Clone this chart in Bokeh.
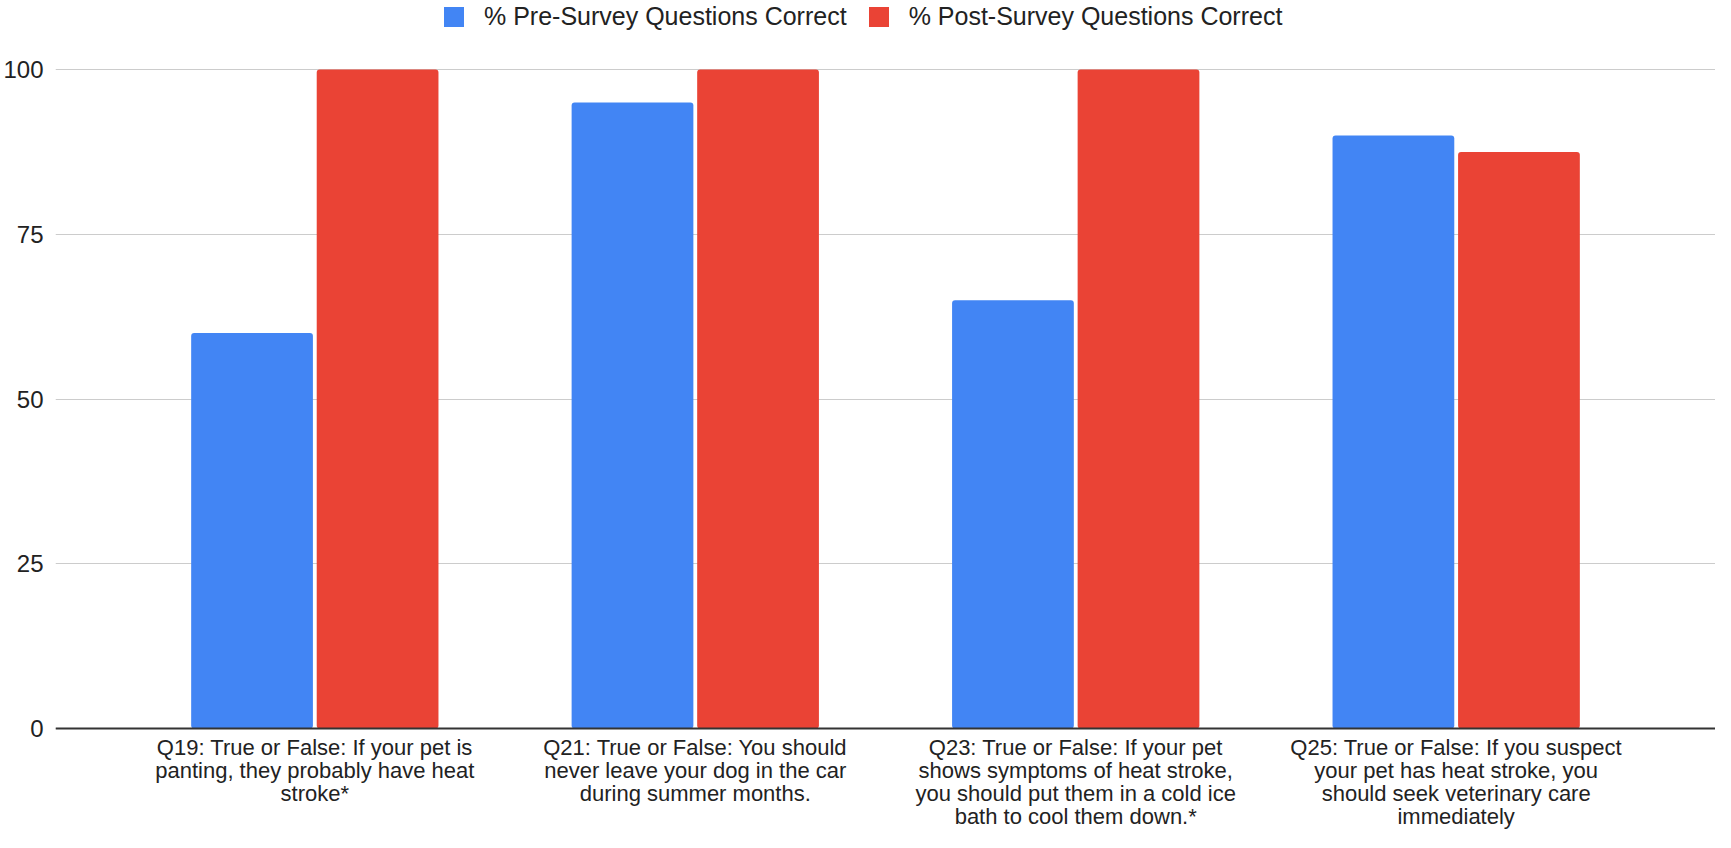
from bokeh.plotting import figure
from bokeh.models import FactorRange, Range1d, FixedTicker, Legend, LegendItem, ColumnDataSource, Span
from bokeh.core.properties import value
from bokeh.transform import dodge
from bokeh.embed import file_html
from bokeh.resources import INLINE

questions = [
    "Q19: True or False: If your pet is\npanting, they probably have heat\nstroke*",
    "Q21: True or False: You should\nnever leave your dog in the car\nduring summer months.",
    "Q23: True or False: If your pet\nshows symptoms of heat stroke,\nyou should put them in a cold ice\nbath to cool them down.*",
    "Q25: True or False: If you suspect\nyour pet has heat stroke, you\nshould seek veterinary care\nimmediately",
]
pre = [60, 95, 65, 90]
post = [100, 100, 100, 87.5]
series_names = ["% Pre-Survey Questions Correct", "% Post-Survey Questions Correct"]
y_ticks = [0, 25, 50, 75, 100]

src = ColumnDataSource(dict(q=questions, pre=pre, post=post))

FONT = "Liberation Sans"
W, H = 1715, 832
LEFT = 54
Y100_PX = 69     # screen y of the 100 gridline
Y0_PX = 728      # screen y of the baseline
ppu = (Y0_PX - Y100_PX) / 100.0
y_start = -(H - Y0_PX) / ppu
y_end = 100 + Y100_PX / ppu
label_y = -6 / ppu   # category labels start 6px below the baseline

p = figure(
    x_range=FactorRange(*questions, range_padding=0.0908),
    y_range=Range1d(y_start, y_end),
    width=W, height=H, x_axis_location=None,
    output_backend="svg", toolbar_location=None,
    min_border_left=LEFT, min_border_right=0, min_border_top=0, min_border_bottom=0,
)
p.outline_line_color = None

r1 = p.vbar(x=dodge("q", -0.165, range=p.x_range), top="pre", width=0.32, source=src,
            fill_color="#4285F4", line_color=None, border_radius=3)
r2 = p.vbar(x=dodge("q", 0.165, range=p.x_range), top="post", width=0.32, source=src,
            fill_color="#EA4335", line_color=None, border_radius=3)

p.xgrid.grid_line_color = None
p.ygrid.grid_line_color = "#cccccc"
p.ygrid.grid_line_width = 1.2
p.ygrid.ticker = FixedTicker(ticks=y_ticks)

p.add_layout(Span(location=0, dimension="width", line_color="#333333", line_width=2))

p.yaxis.ticker = FixedTicker(ticks=y_ticks)
p.yaxis.axis_line_color = None
p.yaxis.major_tick_line_color = None
p.yaxis.minor_tick_line_color = None
p.yaxis.major_tick_out = 0
p.yaxis.major_tick_in = 0
p.yaxis.major_label_text_font = FONT
p.yaxis.major_label_text_font_size = "24px"
p.yaxis.major_label_text_color = "#222222"
p.yaxis.major_label_standoff = 12

# category labels under the baseline
p.text(x="q", y=label_y, text="q", source=src, text_align="center", text_baseline="top",
       text_font=value(FONT), text_font_size="22px", text_line_height=0.93,
       text_color="#222222")

legend = Legend(items=[LegendItem(label=series_names[0], renderers=[r1]),
                       LegendItem(label=series_names[1], renderers=[r2])],
                orientation="horizontal", location=(386, H - 31),
                label_text_font=FONT, label_text_font_size="25px", label_text_color="#222222",
                glyph_width=25, glyph_height=25, spacing=19, label_standoff=18,
                label_height=25, border_line_color=None, background_fill_alpha=0,
                padding=0, margin=0)
p.add_layout(legend, "center")

open("out.html", "w").write(file_html(p, INLINE))
